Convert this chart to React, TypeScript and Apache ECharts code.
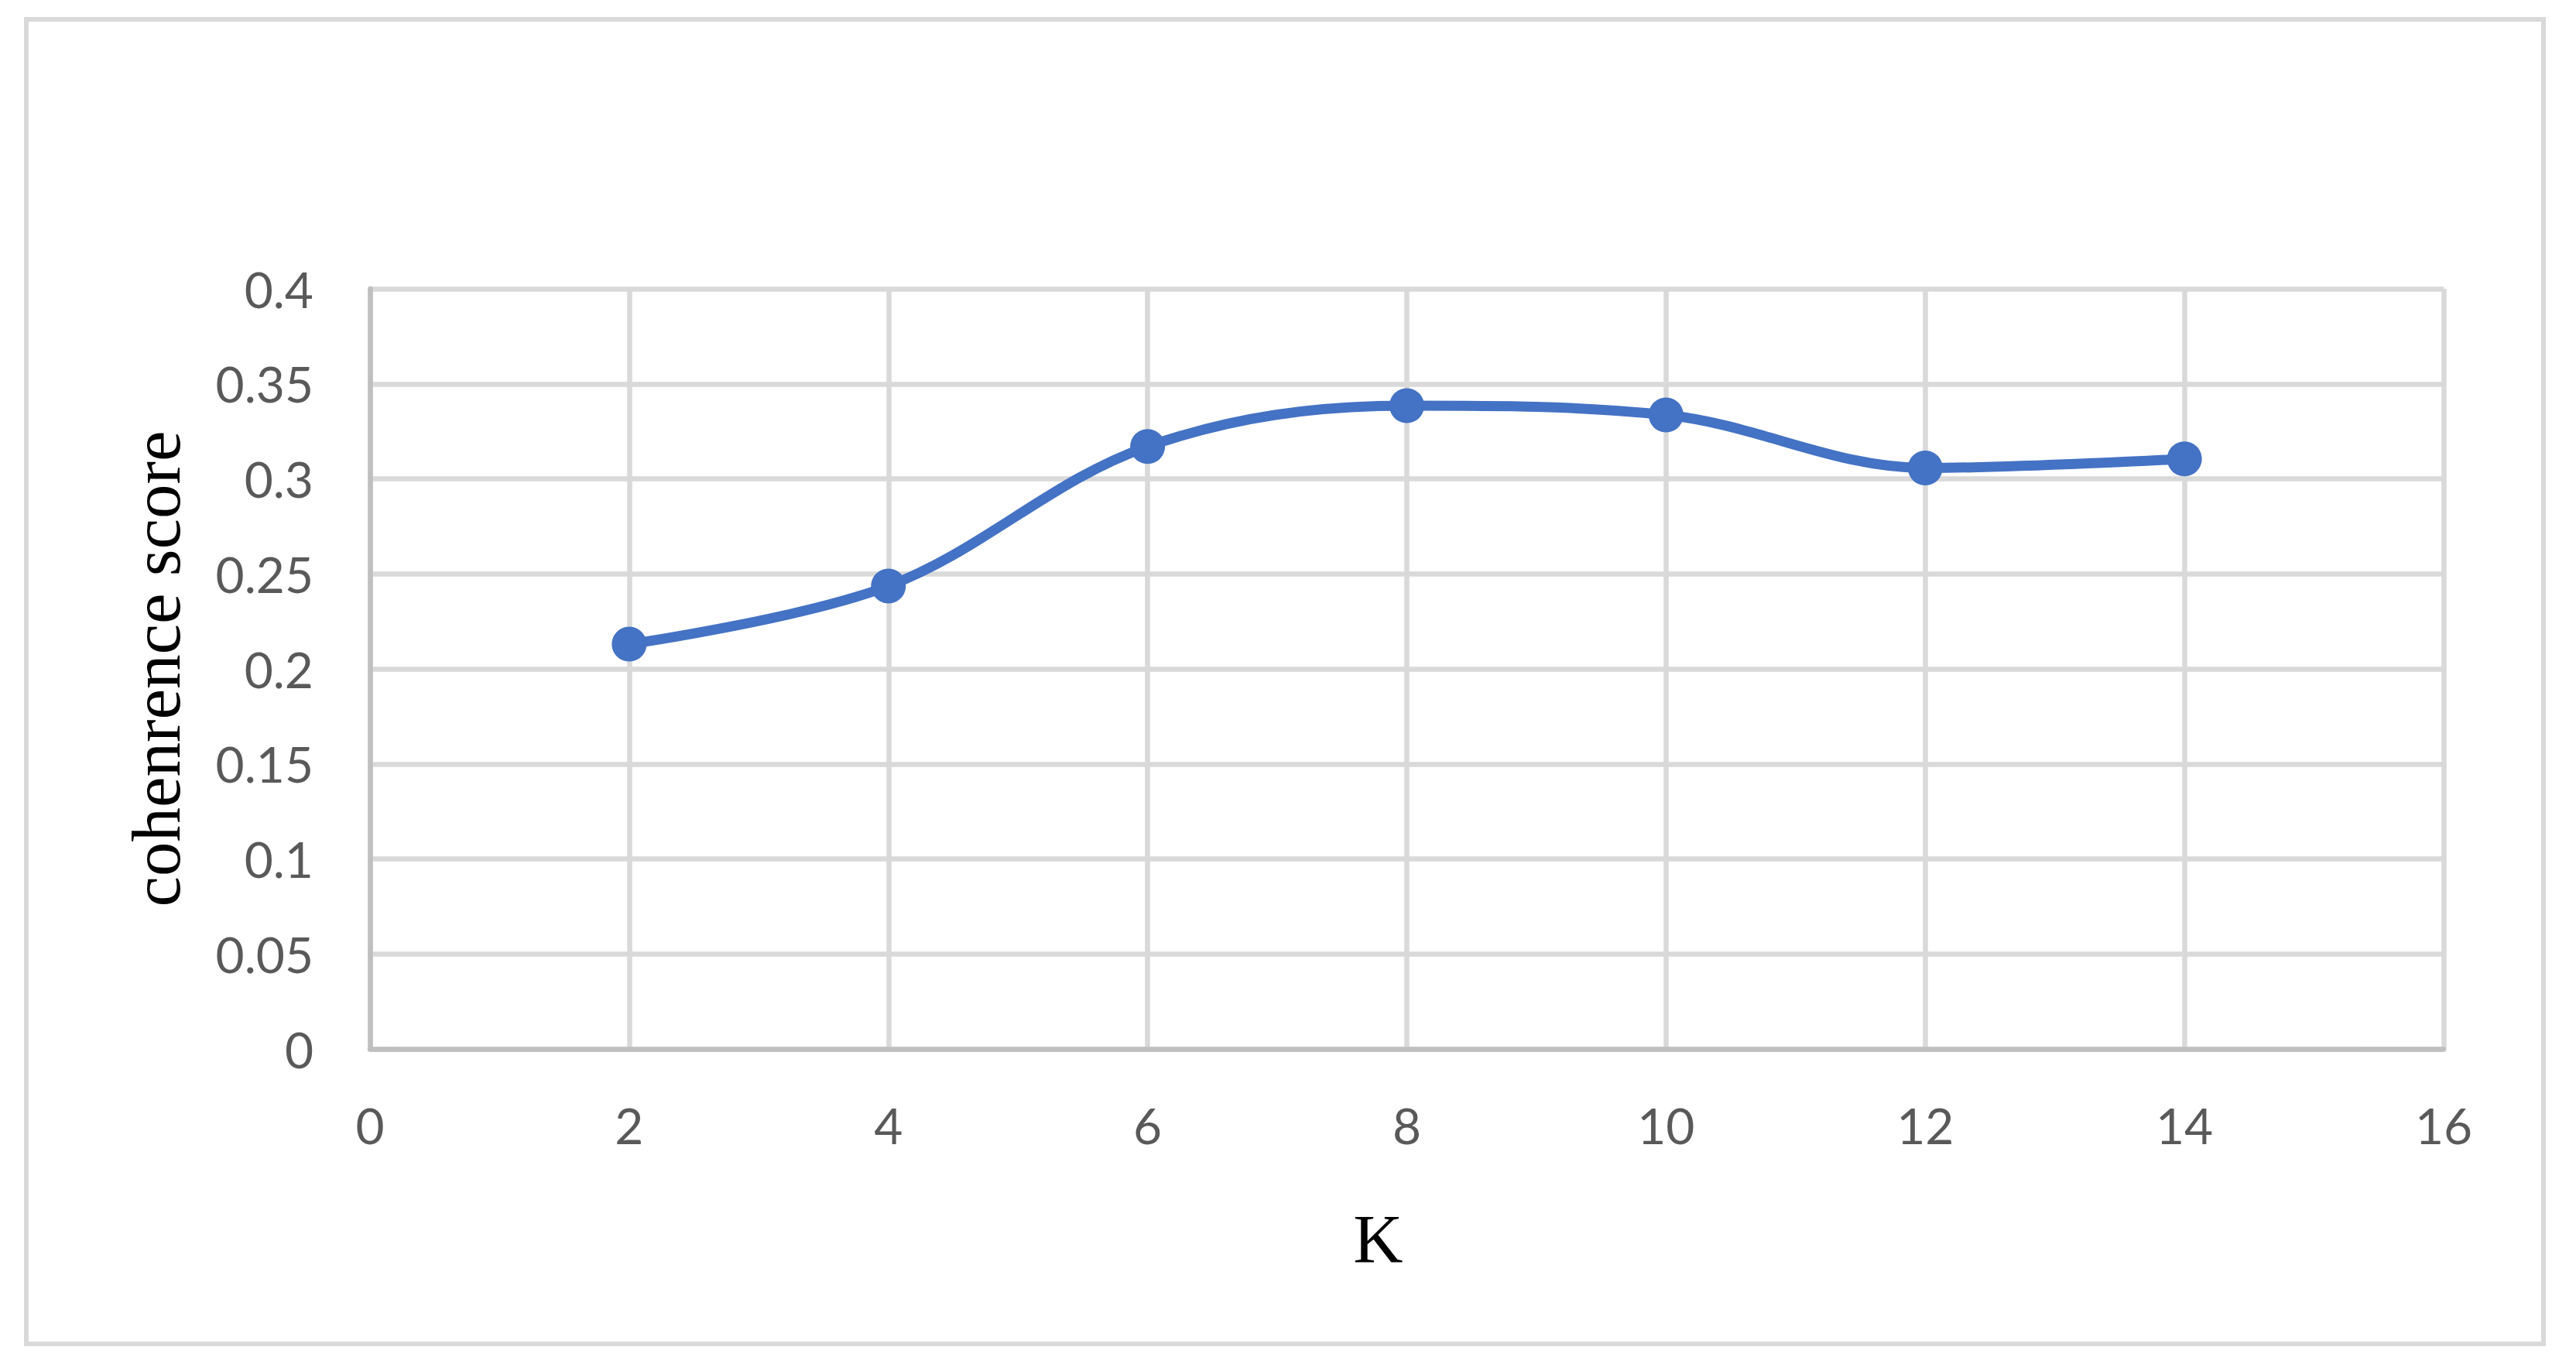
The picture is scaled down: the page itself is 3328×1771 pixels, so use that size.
import React, { useEffect, useRef } from "react";
import * as echarts from "echarts";

const kValues = [2, 4, 6, 8, 10, 12, 14];
const coherence = [0.213, 0.2436, 0.317, 0.3385, 0.3336, 0.3057, 0.3105];
const xAxisName = "K";
const yAxisName = "cohenrence score";

export default function App() {
  const ref = useRef<HTMLDivElement>(null);
  useEffect(() => {
    if (!ref.current) return;
    const chart = echarts.init(ref.current, undefined, { renderer: "svg" });
    const labelStyle = { color: "#595959", fontFamily: "Lato", fontSize: 64 };
    chart.setOption({
      animation: false,
      backgroundColor: "#ffffff",
      grid: { left: 478, top: 373, right: 171, bottom: 416, containLabel: false },
      graphic: [
        {
          type: "rect",
          shape: { x: 34, y: 25, width: 3252, height: 1711 },
          style: { fill: "none", stroke: "#d9d9d9", lineWidth: 6 },
          silent: true,
        },
      ],
      xAxis: {
        type: "value",
        min: 0,
        max: 16,
        interval: 2,
        name: xAxisName,
        nameLocation: "middle",
        nameGap: 200,
        nameTextStyle: {
          color: "#000000",
          fontFamily: "Liberation Serif",
          fontSize: 89,
          padding: [0, 74, 0, 0],
        },
        axisLine: { show: true, lineStyle: { color: "#bfbfbf", width: 6.5 } },
        axisTick: { show: false },
        axisLabel: { ...labelStyle, margin: 66 },
        splitLine: { show: true, lineStyle: { color: "#d9d9d9", width: 6.5 } },
      },
      yAxis: {
        type: "value",
        min: 0,
        max: 0.4,
        interval: 0.05,
        name: yAxisName,
        nameLocation: "middle",
        nameGap: 232,
        nameTextStyle: { color: "#000000", fontFamily: "Liberation Serif", fontSize: 89 },
        axisLine: { show: true, lineStyle: { color: "#bfbfbf", width: 6.5 } },
        axisTick: { show: false },
        axisLabel: { ...labelStyle, margin: 73 },
        splitLine: { show: true, lineStyle: { color: "#d9d9d9", width: 6.5 } },
      },
      series: [
        {
          type: "line",
          data: kValues.map((k, i) => [k, coherence[i]]),
          smooth: 0.35,
          symbol: "circle",
          symbolSize: 45,
          lineStyle: { color: "#4472c4", width: 13 },
          itemStyle: { color: "#4472c4" },
        },
      ],
    });
    return () => chart.dispose();
  }, []);
  return (
    <div
      ref={ref}
      style={{ position: "fixed", left: 0, top: 0, width: 3328, height: 1771, background: "#fff" }}
    />
  );
}
